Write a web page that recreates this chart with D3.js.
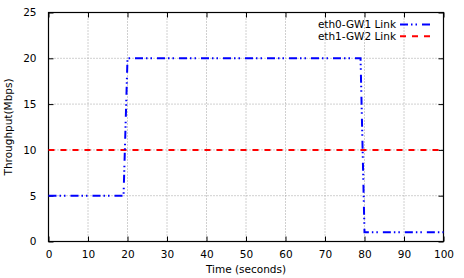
<!DOCTYPE html>
<html>
<head>
<meta charset="utf-8">
<script src="https://cdn.jsdelivr.net/npm/d3@7"></script>
<style>
  body { margin: 0; background: #fff; }
  svg { display: block; font-family: "DejaVu Sans", sans-serif; }
</style>
</head>
<body>
<div id="chart"></div>
<script>
const width = 464;
const height = 278;

// data
const xTicks = [0, 10, 20, 30, 40, 50, 60, 70, 80, 90, 100];
const yTicks = [0, 5, 10, 15, 20, 25];
const eth0Time = [0, 19, 20, 79, 80, 100];
const eth0Rate = [5, 5, 20, 20, 1, 1];
const eth1Time = [0, 100];
const eth1Rate = [10, 10];
const seriesNames = ["eth0-GW1 Link", "eth1-GW2 Link"];

const svg = d3.select("#chart")
  .append("svg")
  .attr("width", width)
  .attr("height", height);

const x = d3.scaleLinear().domain([0, 100]).range([48.5, 443.5]);
const y = d3.scaleLinear().domain([0, 25]).range([241.5, 12.5]);

// grid
svg.append("g")
  .selectAll("line.gx")
  .data(xTicks.slice(1, -1))
  .enter().append("line")
  .attr("x1", d => x(d)).attr("x2", d => x(d))
  .attr("y1", y(0)).attr("y2", y(25))
  .attr("stroke", "#a0a0a0").attr("stroke-width", 1)
  .attr("stroke-dasharray", "1,2");

svg.append("g")
  .selectAll("line.gy")
  .data(yTicks.slice(1, -1))
  .enter().append("line")
  .attr("x1", x(0)).attr("x2", x(100))
  .attr("y1", d => y(d)).attr("y2", d => y(d))
  .attr("stroke", "#a0a0a0").attr("stroke-width", 1)
  .attr("stroke-dasharray", "1,2");

// axes (ticks inward, mirrored)
const xAxis = svg.append("g")
  .attr("transform", `translate(0,${y(0)})`)
  .call(d3.axisBottom(x).tickValues(xTicks).tickSizeInner(-5).tickSizeOuter(0).tickPadding(9));
const xAxisTop = svg.append("g")
  .attr("transform", `translate(0,${y(25)})`)
  .call(d3.axisTop(x).tickValues(xTicks).tickSizeInner(-5).tickSizeOuter(0).tickFormat(""));
const yAxis = svg.append("g")
  .attr("transform", `translate(${x(0)},0)`)
  .call(d3.axisLeft(y).tickValues(yTicks).tickSizeInner(-5).tickSizeOuter(0).tickPadding(12));
const yAxisRight = svg.append("g")
  .attr("transform", `translate(${x(100)},0)`)
  .call(d3.axisRight(y).tickValues(yTicks).tickSizeInner(-5).tickSizeOuter(0).tickFormat(""));

[xAxis, xAxisTop, yAxis, yAxisRight].forEach(g => {
  g.select(".domain").remove();
  g.selectAll("line").attr("stroke", "#000");
  g.selectAll("text")
    .attr("fill", "#000")
    .style("font-size", "10.5px")
    .style("font-family", "DejaVu Sans, sans-serif");
});

// frame
svg.append("rect")
  .attr("x", x(0)).attr("y", y(25))
  .attr("width", x(100) - x(0)).attr("height", y(0) - y(25))
  .attr("fill", "none").attr("stroke", "#000").attr("stroke-width", 1.2);

// lines
const line = d3.line().x(d => x(d[0])).y(d => y(d[1]));

svg.append("path")
  .datum(eth1Time.map((t, i) => [t, eth1Rate[i]]))
  .attr("d", line)
  .attr("fill", "none")
  .attr("stroke", "#ff0000")
  .attr("stroke-width", 2)
  .attr("stroke-dasharray", "6,6");

svg.append("path")
  .datum(eth0Time.map((t, i) => [t, eth0Rate[i]]))
  .attr("d", line)
  .attr("fill", "none")
  .attr("stroke", "#0000ff")
  .attr("stroke-width", 2)
  .attr("stroke-dasharray", "8,3,1.5,3,1.5,5");

// legend
const legend = [
  { name: seriesNames[0], color: "#0000ff", dash: "8,3,1.5,3,1.5,5" },
  { name: seriesNames[1], color: "#ff0000", dash: "6,6" }
];
const lg = svg.append("g");
legend.forEach((d, i) => {
  const ly = 24.5 + i * 11.8;
  lg.append("text")
    .attr("x", 396).attr("y", ly)
    .attr("dy", "0.35em")
    .attr("text-anchor", "end")
    .style("font-size", "10.5px")
    .text(d.name);
  lg.append("line")
    .attr("x1", 400).attr("x2", 433)
    .attr("y1", ly).attr("y2", ly)
    .attr("stroke", d.color).attr("stroke-width", 2)
    .attr("stroke-dasharray", d.dash);
});

// axis labels
svg.append("text")
  .attr("x", (x(0) + x(100)) / 2).attr("y", 273)
  .attr("text-anchor", "middle")
  .style("font-size", "10.5px")
  .text("Time (seconds)");

svg.append("text")
  .attr("transform", `translate(12,${(y(0) + y(25)) / 2}) rotate(-90)`)
  .attr("text-anchor", "middle")
  .style("font-size", "10.5px")
  .text("Throughput(Mbps)");
</script>
</body>
</html>
